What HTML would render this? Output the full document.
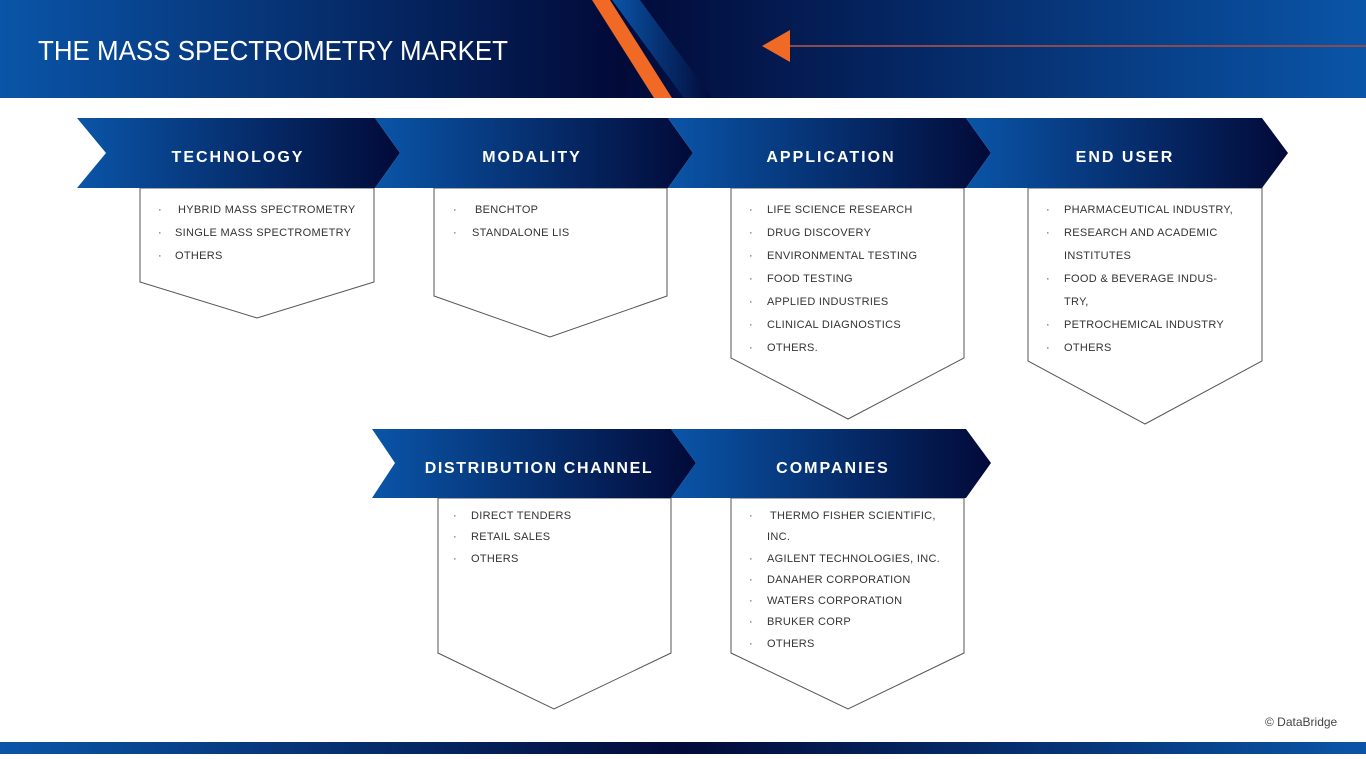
<!DOCTYPE html>
<html><head><meta charset="utf-8"><style>
body{margin:0;width:1366px;height:754px;overflow:hidden;background:#fff;font-family:"Liberation Sans",sans-serif;}
</style></head><body>
<svg width="1366" height="754" xmlns="http://www.w3.org/2000/svg">
<defs>
<linearGradient id="hl" x1="0" x2="1"><stop offset="0" stop-color="#0a55a8"/><stop offset="1" stop-color="#020a38"/></linearGradient>
<linearGradient id="hr" x1="0" x2="1"><stop offset="0" stop-color="#020a38"/><stop offset="1" stop-color="#0a55a8"/></linearGradient>
<linearGradient id="cg" x1="0" x2="1"><stop offset="0" stop-color="#0a55a8"/><stop offset="1" stop-color="#020a38"/></linearGradient>
<linearGradient id="bb" x1="0" x2="1"><stop offset="0" stop-color="#0a55a8"/><stop offset="0.5" stop-color="#020a38"/><stop offset="1" stop-color="#0a55a8"/></linearGradient>
<linearGradient id="st" x1="0" x2="1"><stop offset="0" stop-color="#0a55a8"/><stop offset="1" stop-color="#020a38"/></linearGradient>
</defs>
<rect x="0" y="0" width="620" height="98" fill="url(#hl)"/>
<rect x="620" y="0" width="746" height="98" fill="url(#hr)"/>
<polygon points="612,0 640,0 712,98 684,98" fill="url(#st)"/>
<polygon points="592,0 610,0 672,98 654,98" fill="#f06a25"/>
<polygon points="762,46 790,30 790,62" fill="#f06a25"/>
<rect x="790" y="45" width="576" height="2" fill="#8a4a50"/>
<text x="38" y="60" fill="#fff" font-size="28" font-weight="300" textLength="470" lengthAdjust="spacingAndGlyphs" style="font-family:'Liberation Sans Narrow','Liberation Sans',sans-serif">THE MASS SPECTROMETRY MARKET</text>
<g fill="#fff" stroke="#555" stroke-width="1">
<polygon points="140,188 374,188 374,282 257,318 140,282"/>
<polygon points="434,188 667,188 667,296 550,337 434,296"/>
<polygon points="731,188 964,188 964,358 848,419 731,358"/>
<polygon points="1028,188 1262,188 1262,361 1145,424 1028,361"/>
<polygon points="438,498 671,498 671,653 554,709 438,653"/>
<polygon points="731,498 964,498 964,653 848,709 731,653"/>
</g>
<g fill="url(#cg)">
<polygon points="77,118 375,118 400,153 375,188 77,188 106,153"/>
<polygon points="375,118 668,118 693,153 668,188 375,188 400,153"/>
<polygon points="668,118 966,118 991,153 966,188 668,188 693,153"/>
<polygon points="966,118 1262,118 1288,153 1262,188 966,188 991,153"/>
<polygon points="372,429 671,429 696,463 671,498 372,498 395,463"/>
<polygon points="671,429 966,429 991,463 966,498 671,498 696,463"/>
</g>
<g fill="#fff" font-size="16" font-weight="bold" text-anchor="middle" letter-spacing="2">
<text x="238" y="162">TECHNOLOGY</text>
<text x="532" y="162">MODALITY</text>
<text x="831" y="162">APPLICATION</text>
<text x="1125" y="162">END USER</text>
<text x="539" y="473" letter-spacing="1.6">DISTRIBUTION CHANNEL</text>
<text x="833" y="473">COMPANIES</text>
</g>
<g fill="#333" font-size="11" letter-spacing="0.3">
<text x="158" y="213">·</text><text x="178" y="213">HYBRID MASS SPECTROMETRY</text>
<text x="158" y="236">·</text><text x="175" y="236">SINGLE MASS SPECTROMETRY</text>
<text x="158" y="259">·</text><text x="175" y="259">OTHERS</text>
<text x="453" y="213">·</text><text x="475" y="213">BENCHTOP</text>
<text x="453" y="236">·</text><text x="472" y="236">STANDALONE LIS</text>
<text x="749" y="213">·</text><text x="767" y="213">LIFE SCIENCE RESEARCH</text>
<text x="749" y="236">·</text><text x="767" y="236">DRUG DISCOVERY</text>
<text x="749" y="259">·</text><text x="767" y="259">ENVIRONMENTAL TESTING</text>
<text x="749" y="282">·</text><text x="767" y="282">FOOD TESTING</text>
<text x="749" y="305">·</text><text x="767" y="305">APPLIED INDUSTRIES</text>
<text x="749" y="328">·</text><text x="767" y="328">CLINICAL DIAGNOSTICS</text>
<text x="749" y="351">·</text><text x="767" y="351">OTHERS.</text>
<text x="1046" y="213">·</text><text x="1064" y="213">PHARMACEUTICAL INDUSTRY,</text>
<text x="1046" y="236">·</text><text x="1064" y="236">RESEARCH AND ACADEMIC</text>
<text x="1064" y="259">INSTITUTES</text>
<text x="1046" y="282">·</text><text x="1064" y="282">FOOD &amp; BEVERAGE INDUS-</text>
<text x="1064" y="305">TRY,</text>
<text x="1046" y="328">·</text><text x="1064" y="328">PETROCHEMICAL INDUSTRY</text>
<text x="1046" y="351">·</text><text x="1064" y="351">OTHERS</text>
<text x="453" y="519">·</text><text x="471" y="519">DIRECT TENDERS</text>
<text x="453" y="540">·</text><text x="471" y="540">RETAIL SALES</text>
<text x="453" y="562">·</text><text x="471" y="562">OTHERS</text>
<text x="749" y="519">·</text><text x="770" y="519">THERMO FISHER SCIENTIFIC,</text>
<text x="767" y="540">INC.</text>
<text x="749" y="562">·</text><text x="767" y="562">AGILENT TECHNOLOGIES, INC.</text>
<text x="749" y="583">·</text><text x="767" y="583">DANAHER CORPORATION</text>
<text x="749" y="604">·</text><text x="767" y="604">WATERS CORPORATION</text>
<text x="749" y="625">·</text><text x="767" y="625">BRUKER CORP</text>
<text x="749" y="647">·</text><text x="767" y="647">OTHERS</text>
</g>
<text x="1265" y="726" fill="#444" font-size="12">© DataBridge</text>
<rect x="0" y="742" width="1366" height="12" fill="url(#bb)"/>
</svg>
</body></html>
